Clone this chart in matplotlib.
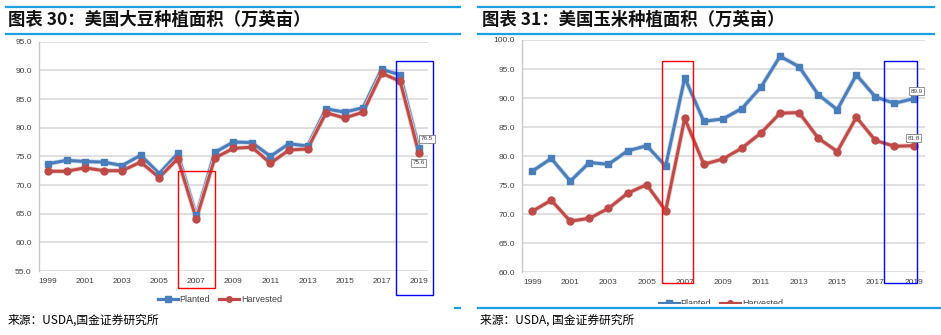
import matplotlib
matplotlib.use('Agg')
import matplotlib.pyplot as plt
import matplotlib.patheffects as pe
from matplotlib.patches import Rectangle
from matplotlib.lines import Line2D

plt.rcParams['font.family'] = ['Liberation Sans', 'Noto Sans CJK SC', 'DejaVu Sans']

# 年份
years = list(range(1999, 2020))

# 美国大豆种植面积（万英亩）
soy_planted = [73.7, 74.3, 74.1, 74.0, 73.4, 75.2, 72.0, 75.5, 64.7, 75.7, 77.5,
               77.4, 75.0, 77.2, 76.8, 83.3, 82.7, 83.5, 90.2, 89.2, 76.5]
soy_harvested = [72.4, 72.4, 73.0, 72.5, 72.5, 74.0, 71.3, 74.6, 64.1, 74.7, 76.4,
                 76.6, 73.8, 76.1, 76.3, 82.6, 81.7, 82.7, 89.5, 88.1, 75.6]

# 美国玉米种植面积（万英亩）
corn_planted = [77.4, 79.6, 75.7, 78.9, 78.6, 80.9, 81.8, 78.3, 93.5, 86.0, 86.4,
                88.2, 91.9, 97.2, 95.4, 90.6, 88.0, 94.0, 90.2, 89.1, 89.9]
corn_harvested = [70.5, 72.4, 68.8, 69.3, 71.0, 73.6, 75.1, 70.6, 86.5, 78.6, 79.5,
                  81.4, 84.0, 87.4, 87.5, 83.1, 80.8, 86.7, 82.7, 81.7, 81.8]

titles = ['图表 30：美国大豆种植面积（万英亩）', '图表 31：美国玉米种植面积（万英亩）']
source_texts = ['来源：USDA,国金证券研究所', '来源：USDA, 国金证券研究所']

W, H = 941, 335
BLUE = '#4A7EBB'
RED = '#BE4B48'
CJK = ['Noto Sans CJK SC', 'DejaVu Sans']


def fx(px):
    return px / W


def fy(py):
    return 1 - py / H


fig = plt.figure(figsize=(W / 100, H / 100), dpi=100)


def draw_series(ax, y, color, halo, marker):
    ax.plot(years, y, color=color, lw=2.2, zorder=3,
            path_effects=[pe.Stroke(linewidth=3.4, foreground=halo), pe.Normal()])
    ax.plot(years, y, ls='none', color=color, marker=marker, ms=5, zorder=4)


def draw_panel(rect, planted, harvested, ylim, xlim, boxes, labels):
    ax = fig.add_axes(rect)
    draw_series(ax, planted, BLUE, '#C9D8EE', 's')
    draw_series(ax, harvested, RED, '#EDC9C8', 'o')
    ax.set_ylim(*ylim)
    ax.set_xlim(*xlim)
    ax.set_yticks(range(ylim[0], ylim[1] + 1, 5))
    ax.set_yticklabels(['%.1f' % v for v in range(ylim[0], ylim[1] + 1, 5)])
    ax.set_xticks(years[::2])
    ax.tick_params(length=0, labelsize=6, labelcolor='#404040')
    ax.tick_params(axis='y', pad=5)
    ax.tick_params(axis='x', pad=5)
    ax.grid(axis='y', color='#D9D9D9', lw=1.2)
    ax.set_axisbelow(True)
    for s in ['top', 'right', 'bottom']:
        ax.spines[s].set_visible(False)
    ax.spines['left'].set_color('#C8C8C8')
    ax.spines['left'].set_linewidth(1.0)
    for (x0, x1, y0, y1, c) in boxes:
        ax.add_patch(Rectangle((x0, y0), x1 - x0, y1 - y0, fill=False, ec=c,
                               lw=1.0, clip_on=False, zorder=5))
    for (x, y, txt, dx, dy) in labels:
        ax.annotate(txt, (x, y), xytext=(dx, dy), textcoords='offset points',
                    fontsize=4.5, color='#404040', ha='center', va='center',
                    bbox=dict(boxstyle='square,pad=0.25', fc='white', ec='#808080', lw=0.6),
                    zorder=6)
    return ax


# 左图：大豆
ax1 = draw_panel([fx(38.7), fy(271), fx(428 - 38.7), (271 - 41.7) / H],
                 soy_planted, soy_harvested, (55, 95), (1998.5, 2019.5),
                 [(2006.0, 2008.0, 52.0, 72.4, '#FF0000'),
                  (2017.75, 2019.78, 50.8, 91.6, '#0000FF')],
                 [(2019, soy_planted[-1], '76.5', 6, 6.5),
                  (2019, soy_harvested[-1], '75.6', 0, -7)])

# 右图：玉米
ax2 = draw_panel([fx(521.7), fy(272.3), fx(925 - 521.7), (272.3 - 40) / H],
                 corn_planted, corn_harvested, (60, 100), (1998.45, 2019.6),
                 [(2005.82, 2007.45, 58.1, 96.3, '#FF0000'),
                  (2017.43, 2019.18, 58.1, 96.3, '#0000FF')],
                 [(2019, corn_planted[-1], '89.9', 2, 5.5),
                  (2019, corn_harvested[-1], '81.8', 0, 5.5)])

handles = [Line2D([], [], color=BLUE, lw=2.3, marker='s', ms=4),
           Line2D([], [], color=RED, lw=2.3, marker='o', ms=4)]
for cx, cy in ((220, 300), (721, 304)):
    fig.legend(handles, ['Planted', 'Harvested'], loc='center', ncol=2,
               bbox_to_anchor=(fx(cx), fy(cy)), frameon=False, fontsize=6.5,
               handlelength=2.2, columnspacing=1.0, handletextpad=0.2,
               labelcolor='#404040')

# 右侧图例下半部被遮挡
fig.patches.append(Rectangle((fx(640), fy(316)), fx(160), (316 - 304) / H,
                             transform=fig.transFigure, fc='white', ec='none', zorder=10))

# 标题及装饰线
for x0, x1, tx, title in [(6, 460, 8, titles[0]), (478, 934, 482, titles[1])]:
    for yy in (6.7, 34.3):
        fig.add_artist(Line2D([fx(x0), fx(x1)], [fy(yy), fy(yy)], color='#1BA1E2',
                              lw=1.6, transform=fig.transFigure))
    fig.text(fx(tx), fy(19.5), title, fontsize=12.5, fontweight='bold',
             fontstyle='italic', family=CJK, va='center', ha='left', color='#111111')

fig.add_artist(Line2D([fx(478), fx(940)], [fy(308), fy(308)], color='#1BA1E2',
                      lw=1.6, transform=fig.transFigure, zorder=11))
fig.add_artist(Line2D([fx(455), fx(460)], [fy(308), fy(308)], color='#1BA1E2',
                      lw=1.6, transform=fig.transFigure, zorder=11))

fig.text(fx(8), fy(320), source_texts[0], fontsize=8.5, family=CJK, va='center', ha='left')
fig.text(fx(480), fy(320), source_texts[1], fontsize=8.5, family=CJK, va='center', ha='left')

fig.savefig('out.png', dpi=100)
